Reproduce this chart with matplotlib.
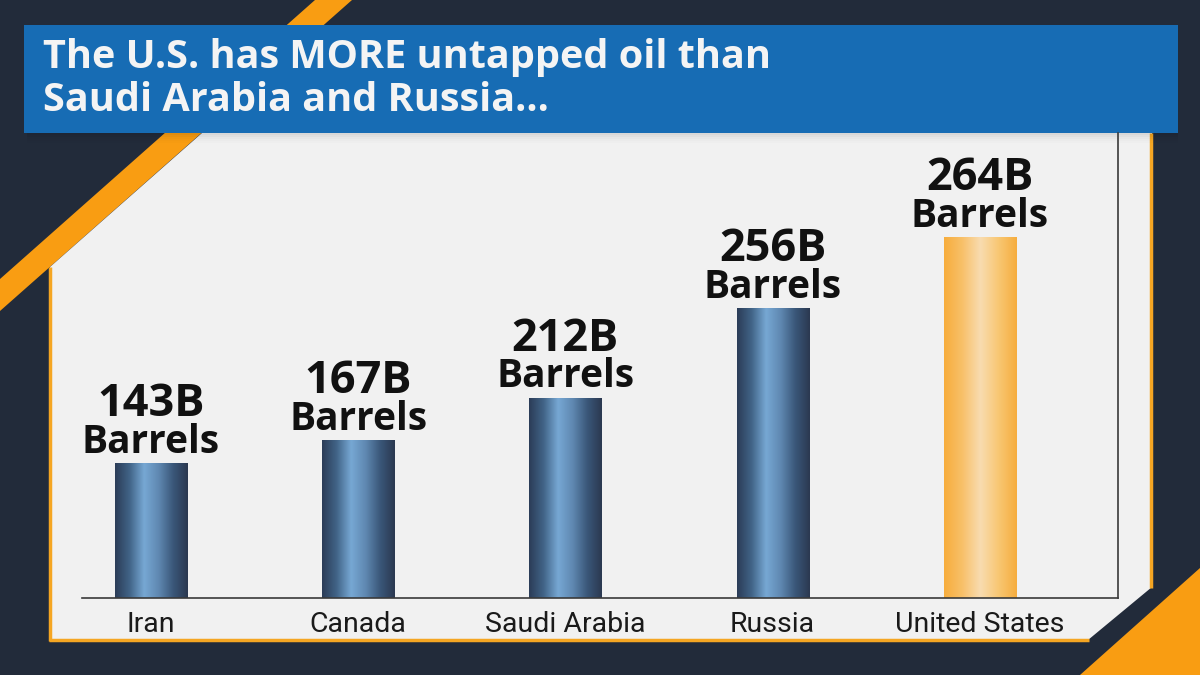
import numpy as np
import matplotlib
matplotlib.use("Agg")
import matplotlib.pyplot as plt
from matplotlib.patches import Polygon, Rectangle
from matplotlib.colors import LinearSegmentedColormap

# ---------------- data ----------------
countries = ["Iran", "Canada", "Saudi Arabia", "Russia", "United States"]
reserves_label = ["143B", "167B", "212B", "256B", "264B"]   # printed values (billion barrels)
bar_heights = [143, 167, 212, 307, 382]                      # drawn bar heights as seen in the picture
highlight = [False, False, False, False, True]
title_lines = ["The U.S. has MORE untapped oil than", "Saudi Arabia and Russia..."]

# ---------------- style ----------------
NAVY = "#222b3a"
ORANGE = "#f99d12"
BLUE = "#176cb4"
PANEL = "#f1f1f1"
FONT = "Open Sans"
TICKFONT = "Roboto"

W, H = 1200, 675
fig = plt.figure(figsize=(12, 6.75), dpi=100)
fig.patch.set_facecolor(NAVY)

# background / decoration axes in pixel coordinates (y down)
bg = fig.add_axes([0, 0, 1, 1])
bg.set_xlim(0, W)
bg.set_ylim(H, 0)
bg.axis("off")

# orange diagonal stripe top-left
bg.add_patch(Polygon([(315, 0), (352, 0), (0, 311), (0, 279)], closed=True,
                     facecolor=ORANGE, edgecolor="none", zorder=1))
# orange triangle bottom-right
bg.add_patch(Polygon([(1200, 568), (1200, 675), (1080, 675)], closed=True,
                     facecolor=ORANGE, edgecolor="none", zorder=1))

# panel with cut corners
panel_pts = [(202, 133), (1152, 133), (1152, 587), (1088, 640), (50, 640), (50, 267)]
bg.add_patch(Polygon(panel_pts, closed=True, facecolor=PANEL, edgecolor="none", zorder=2))
bg.plot([50, 50], [267, 641], color="#f5a623", lw=2.5, zorder=3, solid_capstyle="butt")
bg.plot([49, 1089], [640, 640], color="#f5a623", lw=2.5, zorder=3, solid_capstyle="butt")
bg.plot([1151, 1151], [133, 588], color="#f5a623", lw=2.5, zorder=3, solid_capstyle="butt")

# banner shadow
for i, a in enumerate([0.10, 0.07, 0.045, 0.025, 0.012]):
    bg.add_patch(Rectangle((27, 133 + i * 2), 1151, 2, facecolor="black", alpha=a,
                           edgecolor="none", zorder=4))
# banner
bg.add_patch(Rectangle((24, 25), 1154, 108, facecolor=BLUE, edgecolor="none", zorder=5))
bg.text(43, 68, title_lines[0], color="#f4f4f4", fontsize=28.5, fontweight="bold",
        family=FONT, va="baseline", ha="left", zorder=6)
bg.text(43, 111, title_lines[1], color="#f4f4f4", fontsize=28.5, fontweight="bold",
        family=FONT, va="baseline", ha="left", zorder=6)

# ---------------- chart axes ----------------
left, right, bottom, top = 82, 1118, 598, 133
ax = fig.add_axes([left / W, (H - bottom) / H, (right - left) / W, (bottom - top) / H])
ax.set_zorder(3)
ax.patch.set_visible(False)

x = np.arange(len(countries))
bars = ax.bar(x, bar_heights, width=0.348, color="none", edgecolor="none")

blue_cmap = LinearSegmentedColormap.from_list(
    "bluebar", ["#2b3c57", "#416487", "#77a8d4", "#5f88b1", "#3a5779", "#2b3850"])
orange_cmap = LinearSegmentedColormap.from_list(
    "orangebar", ["#f7ad3c", "#f8c069", "#f9dcb0", "#f8c773", "#f6ad3e"])
grad = np.linspace(0, 1, 256).reshape(1, -1)
for rect, hl in zip(bars, highlight):
    x0, w_, h_ = rect.get_x(), rect.get_width(), rect.get_height()
    im = ax.imshow(grad, cmap=orange_cmap if hl else blue_cmap, aspect="auto",
                   extent=[x0, x0 + w_, 0, h_], origin="lower", zorder=2,
                   interpolation="bicubic")
    im.set_clip_path(rect)

ax.set_xlim(-0.333, 4.667)
ax.set_ylim(0, 492.6)

for xi, h_, lab in zip(x, bar_heights, reserves_label):
    ax.annotate("Barrels", xy=(xi, h_), xytext=(0, 7.5), textcoords="offset points",
                ha="center", va="baseline", fontsize=28, fontweight="bold",
                family=FONT, color="#111111", zorder=5)
    ax.annotate(lab, xy=(xi, h_), xytext=(0, 34), textcoords="offset points",
                ha="center", va="baseline", fontsize=32.5, fontweight="bold",
                family=FONT, color="#111111", zorder=5)

ax.set_xticks(x)
ax.set_xticklabels(countries, fontsize=20.5, family=TICKFONT, color="#1a1a1a")
ax.tick_params(axis="x", length=0, pad=9)
ax.set_yticks([])
ax.spines["left"].set_visible(False)
ax.spines["top"].set_visible(False)
ax.spines["bottom"].set_color("#3a3a3a")
ax.spines["right"].set_color("#3a3a3a")
ax.spines["bottom"].set_linewidth(1.2)
ax.spines["right"].set_linewidth(1.2)

fig.savefig("out.png", dpi=100, facecolor=fig.get_facecolor())
